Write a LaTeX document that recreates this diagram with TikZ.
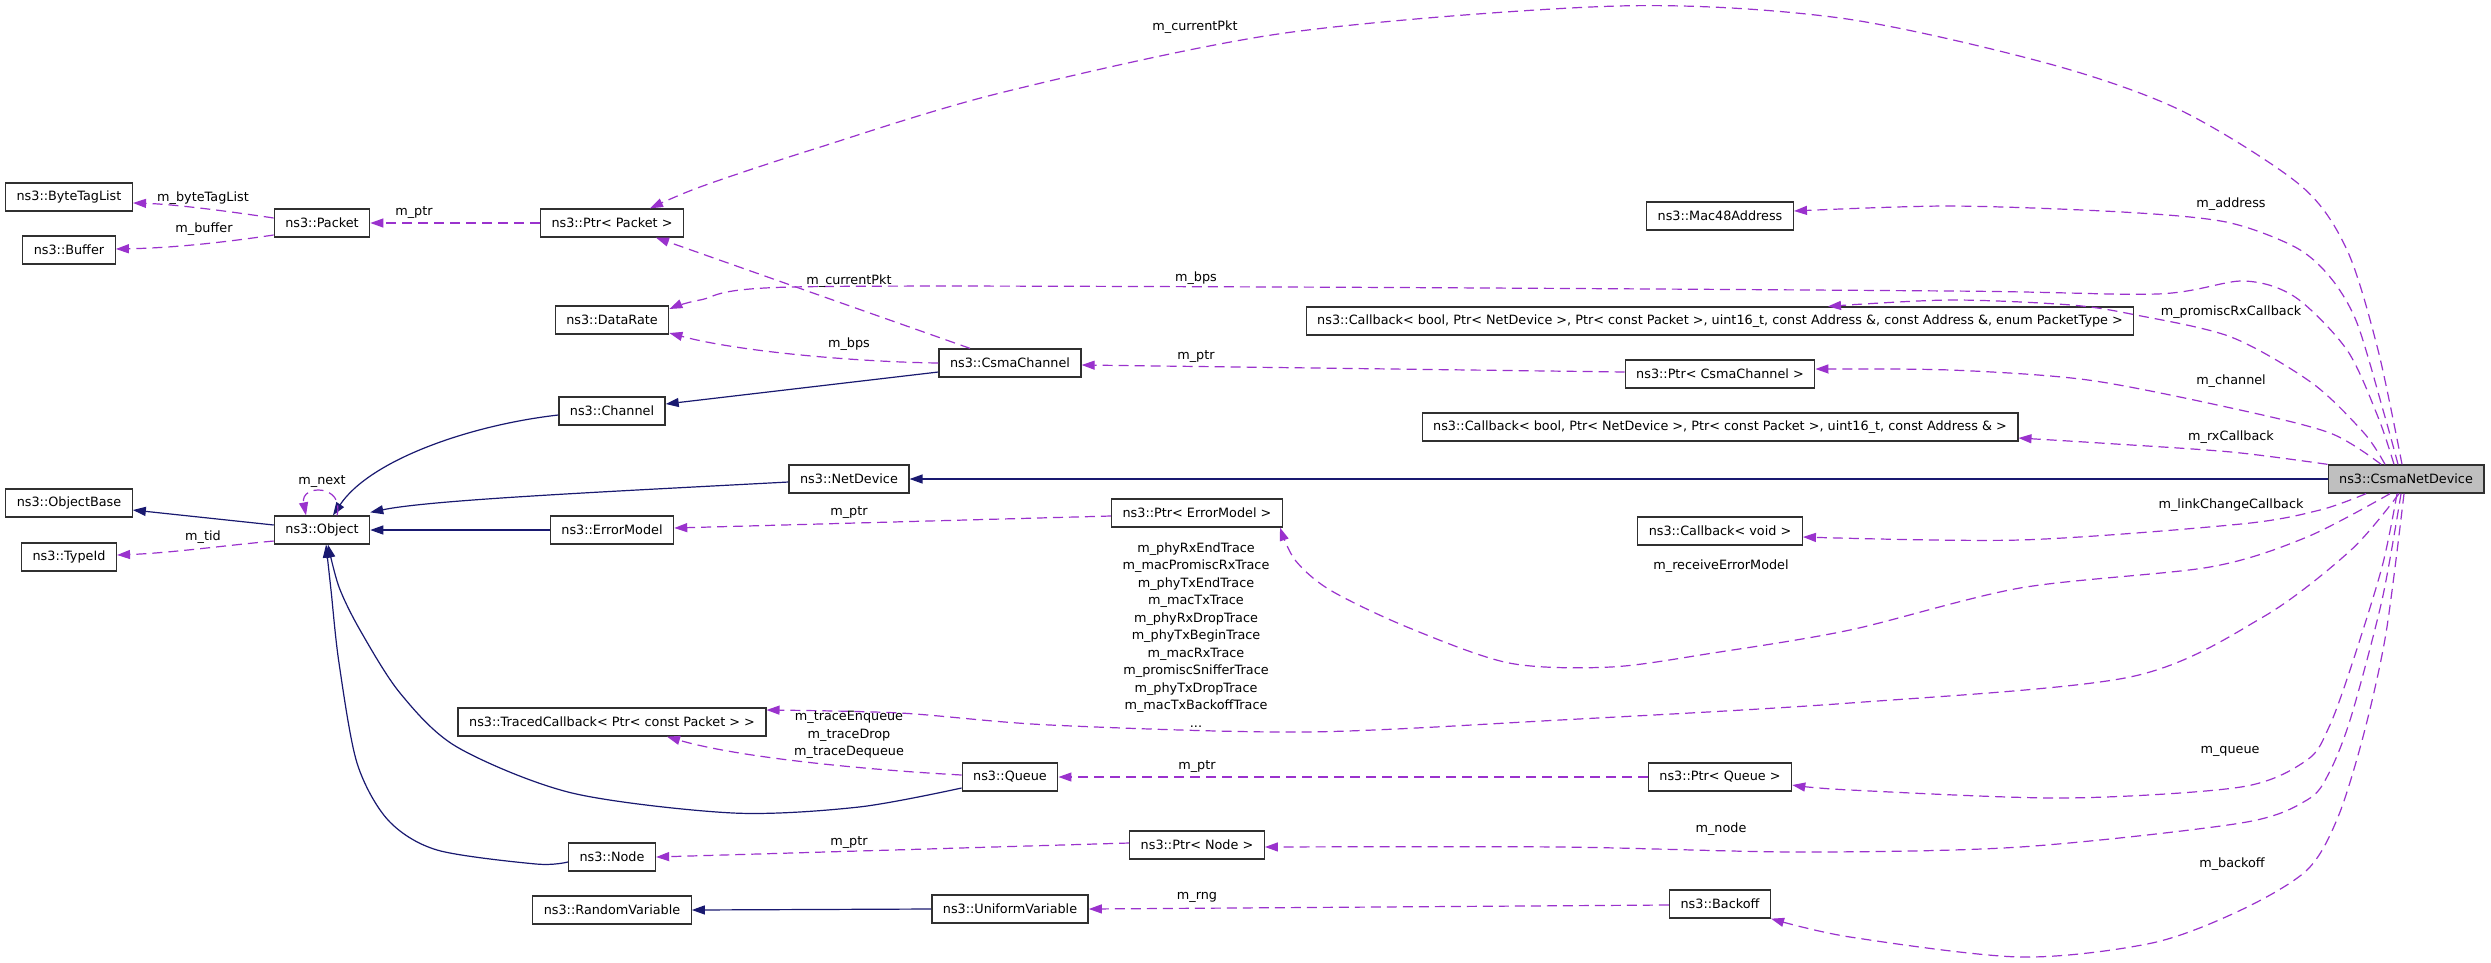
\documentclass[tikz,border=0pt]{standalone}
\usepackage{fontspec}
\setmainfont{DejaVu Sans}
\usetikzlibrary{arrows.meta}
\definecolor{usecol}{HTML}{9A32CD}
\definecolor{inhcol}{HTML}{191970}
\definecolor{boxfill}{HTML}{BFBFBF}
\definecolor{boxline}{HTML}{303030}
\newcommand{\dfont}{\fontsize{12.8pt}{17.5pt}\selectfont}
\begin{document}
\begin{tikzpicture}[x=1pt,y=-1pt,
  cls/.style={draw=boxline, line width=1.3pt, fill=white, minimum height=28pt,
    inner xsep=11pt, inner ysep=0pt, font=\dfont},
  lbl/.style={inner sep=0pt, font=\dfont, align=center},
  tipx/.style={-{Triangle[length=13pt,width=9pt]}},
  inh/.style={draw=inhcol, line width=1.2pt, tipx},
  use/.style={draw=usecol, line width=1.2pt, dash pattern=on 10pt off 6pt, tipx}]
\fill[white] (0,0) rectangle (2491,962);
\useasboundingbox (0,0) rectangle (2491,962);

% nodes
\node[cls] (btl) at (69,197) {ns3::ByteTagList};
\node[cls] (buf) at (69,250) {ns3::Buffer};
\node[cls] (obase) at (69,503) {ns3::ObjectBase};
\node[cls] (tid) at (69,557) {ns3::TypeId};
\node[cls] (pkt) at (322,223) {ns3::Packet};
\node[cls] (obj) at (322,530) {ns3::Object};
\node[cls] (ppkt) at (612,223) {ns3::Ptr< Packet >};
\node[cls] (drate) at (612,320) {ns3::DataRate};
\node[cls] (chan) at (612,411) {ns3::Channel};
\node[cls] (emod) at (612,530) {ns3::ErrorModel};
\node[cls] (tcb) at (612,722) {ns3::TracedCallback< Ptr< const Packet > >};
\node[cls] (node) at (612,857) {ns3::Node};
\node[cls] (rvar) at (612,910) {ns3::RandomVariable};
\node[cls] (cchan) at (1010,363) {ns3::CsmaChannel};
\node[cls] (ndev) at (849,479) {ns3::NetDevice};
\node[cls] (queue) at (1010,777) {ns3::Queue};
\node[cls] (uvar) at (1010,909) {ns3::UniformVariable};
\node[cls] (pemod) at (1197,513) {ns3::Ptr< ErrorModel >};
\node[cls] (pnode) at (1197,845) {ns3::Ptr< Node >};
\node[cls] (mac) at (1720,216) {ns3::Mac48Address};
\node[cls] (cbp) at (1720,321) {ns3::Callback< bool, Ptr< NetDevice >, Ptr< const Packet >, uint16\_t, const Address \&, const Address \&, enum PacketType >};
\node[cls] (pcchan) at (1720,374) {ns3::Ptr< CsmaChannel >};
\node[cls] (cbr) at (1720,427) {ns3::Callback< bool, Ptr< NetDevice >, Ptr< const Packet >, uint16\_t, const Address \& >};
\node[cls] (cbv) at (1720,531) {ns3::Callback< void >};
\node[cls] (pqueue) at (1720,777) {ns3::Ptr< Queue >};
\node[cls] (boff) at (1720,904) {ns3::Backoff};
\node[cls, fill=boxfill] (cnd) at (2406,479) {ns3::CsmaNetDevice};

% inheritance edges
\draw[inh] ([yshift=5pt]obj.west) -- ([yshift=-7pt]obase.east);
\draw[inh] (emod.west) -- (obj.east);
\draw[inh] ([yshift=-4pt]chan.west) .. controls (470,425) and (370,460) .. ([xshift=11pt]obj.north);
\draw[inh] ([yshift=-3pt]ndev.west) .. controls (600,492) and (430,500) .. ([yshift=3pt]obj.north east);
\draw[inh] (cnd.west) -- (ndev.east);
\draw[inh] ([yshift=-9pt]cchan.west) -- ([yshift=7pt]chan.east);
\draw[inh] plot[smooth] coordinates {([yshift=-11pt]queue.west) (859,807) (733,813) (572,793) (457,747) (400,693) (360,630) (339,587) ([xshift=6pt]obj.south)};
\draw[inh] plot[smooth] coordinates {([yshift=-5pt]node.west) (536,864) (437,850) (388,820) (357,763) (339,663) (331,590) ([xshift=4pt]obj.south)};
\draw[inh] (uvar.west) -- (rvar.east);

% usage edges (left part)
\draw[use] ([yshift=5pt]pkt.west) .. controls (220,210) and (170,204) .. ([yshift=-6pt]btl.east);
\draw[use] ([yshift=-12pt]pkt.west) .. controls (220,243) and (170,248) .. ([yshift=1pt]buf.east);
\draw[use] (ppkt.west) -- (pkt.east);
\draw[use] ([xshift=15pt]obj.north) .. controls (345,484) and (300,484) .. ([xshift=-16pt]obj.north);
\draw[use] ([yshift=-11pt]obj.west) .. controls (220,546) and (170,553) .. ([yshift=2pt]tid.east);
\draw[use] ([xshift=-40pt]cchan.north) -- ([xshift=44pt]ppkt.south);
\draw[use] (cchan.west) .. controls (860,362) and (740,352) .. ([yshift=-13pt]drate.east);
\draw[use] ([yshift=2pt]pcchan.west) -- ([yshift=-2pt]cchan.east);
\draw[use] ([yshift=-3pt]pemod.west) -- ([yshift=2pt]emod.east);
\draw[use] (pqueue.west) -- (queue.east);
\draw[use] ([yshift=2pt]queue.west) .. controls (870,770) and (740,758) .. ([xshift=55pt]tcb.south);
\draw[use] ([yshift=2pt]pnode.west) -- (node.east);
\draw[use] ([yshift=-1pt]boff.west) -- (uvar.east);

% usage edges from CsmaNetDevice
\draw[use] plot[smooth] coordinates {([xshift=-4pt]cnd.north) (2378,350) (2347,250) (2300,185) (2180,110) (2046,63) (1840,18) (1618,6) (1285,33) (1000,93) (811,150) (700,187) ([xshift=38pt]ppkt.north)};
\draw[use] plot[smooth] coordinates {([xshift=-8pt]cnd.north) (2385,417) (2357,323) (2330,277) (2295,247) (2226,222) (2122,212) (1950,206) ([yshift=5pt]mac.east)};
\draw[use] plot[smooth] coordinates {([xshift=-12pt]cnd.north) (2378,417) (2347,350) (2295,297) (2243,281) (2157,294) (1950,291) (1280,287) (792,287) (700,300) ([yshift=11pt]drate.east)};
\draw[use] plot[smooth] coordinates {([xshift=-21pt]cnd.north) (2364,433) (2312,383) (2231,337) (2136,315) (2071,305) (1950,300) ([xshift=108pt]cbp.north)};
\draw[use] plot[smooth] coordinates {([xshift=-25pt]cnd.north) (2330,433) (2231,408) (2088,380) (1950,370) ([yshift=5pt]pcchan.east)};
\draw[use] plot[smooth] coordinates {(cnd.north west) (2231,452) (2100,443) ([yshift=-11pt]cbr.east)};
\draw[use] plot[smooth] coordinates {([xshift=-40pt]cnd.south) (2320,510) (2241,524) (2020,540) ([yshift=-6pt]cbv.east)};
\draw[use] plot[smooth] coordinates {([xshift=-16pt]cnd.south) (2307,537) (2210,567) (2020,588) (1850,630) (1713,653) (1611,667) (1509,663) (1407,627) (1330,590) (1295,560) ([xshift=-3pt]pemod.south east)};
\draw[use] plot[smooth] coordinates {([xshift=-7pt]cnd.south) (2351,550) (2263,617) (2130,677) (1850,703) (1560,720) (1305,732) (1050,725) (900,713) ([yshift=12pt]tcb.east)};
\draw[use] plot[smooth] coordinates {([xshift=-9pt]cnd.south) (2382,567) (2351,667) (2329,727) (2307,760) (2241,787) (2064,798) (1850,790) ([yshift=-8pt]pqueue.east)};
\draw[use] plot[smooth] coordinates {([xshift=-5pt]cnd.south) (2382,600) (2351,717) (2329,773) (2307,800) (2241,823) (2020,847) (1800,852) (1560,847) ([yshift=-2pt]pnode.east)};
\draw[use] plot[smooth] coordinates {([xshift=-2pt]cnd.south) (2386,633) (2364,733) (2338,817) (2307,870) (2241,910) (2152,943) (2020,957) (1850,937) (boff.south east)};

% labels
\node[lbl] (l1) at (203,198) {m\_byteTagList};
\node[lbl] (l2) at (204,229) {m\_buffer};
\node[lbl] (l3) at (414,213) {m\_ptr};
\node[lbl] (l4) at (322,482) {m\_next};
\node[lbl] (l5) at (203,537) {m\_tid};
\node[lbl] (l6) at (849,281) {m\_currentPkt};
\node[lbl] (l7) at (849,344) {m\_bps};
\node[lbl] (l8) at (1196,278) {m\_bps};
\node[lbl] (l9) at (1196,357) {m\_ptr};
\node[lbl] (l10) at (1195,27) {m\_currentPkt};
\node[lbl] (l11) at (2231,204) {m\_address};
\node[lbl] (l12) at (2231,312) {m\_promiscRxCallback};
\node[lbl] (l13) at (2231,381) {m\_channel};
\node[lbl] (l14) at (2231,437) {m\_rxCallback};
\node[lbl] (l15) at (2231,505) {m\_linkChangeCallback};
\node[lbl] (l16) at (849,513) {m\_ptr};
\node[lbl] (l17) at (1196,635) {m\_phyRxEndTrace\\m\_macPromiscRxTrace\\m\_phyTxEndTrace\\m\_macTxTrace\\m\_phyRxDropTrace\\m\_phyTxBeginTrace\\m\_macRxTrace\\m\_promiscSnifferTrace\\m\_phyTxDropTrace\\m\_macTxBackoffTrace\\...};
\node[lbl] (l18) at (1721,566) {m\_receiveErrorModel};
\node[lbl] (l19) at (849,735) {m\_traceEnqueue\\m\_traceDrop\\m\_traceDequeue};
\node[lbl] (l20) at (1197,767) {m\_ptr};
\node[lbl] (l21) at (2230,751) {m\_queue};
\node[lbl] (l22) at (849,842) {m\_ptr};
\node[lbl] (l23) at (1721,829) {m\_node};
\node[lbl] (l24) at (1197,897) {m\_rng};
\node[lbl] (l25) at (2232,864) {m\_backoff};
\end{tikzpicture}
\end{document}
